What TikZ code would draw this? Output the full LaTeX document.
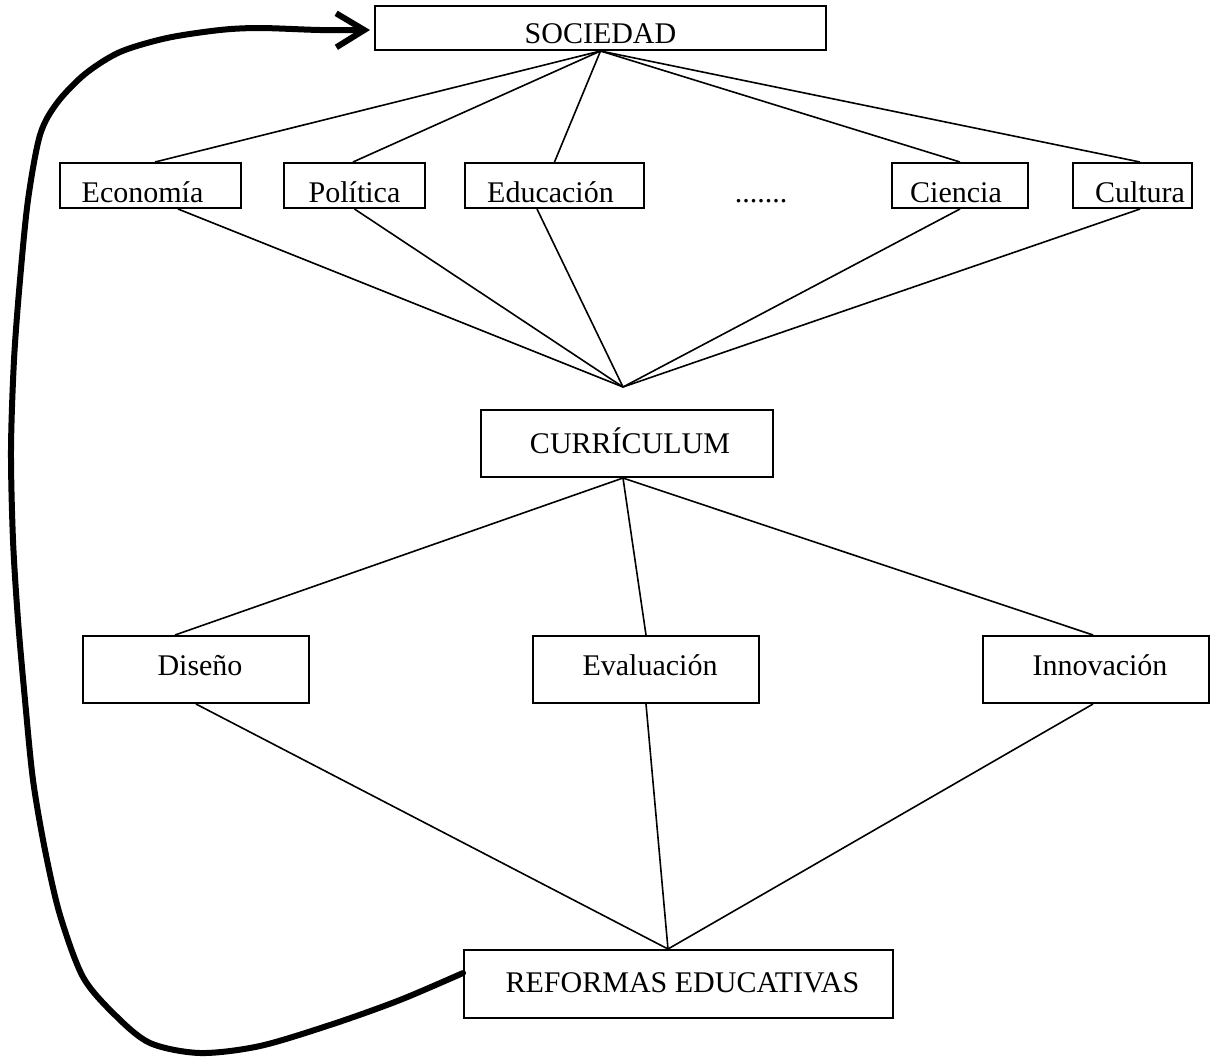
\documentclass[tikz,border=0pt]{standalone}
\usepackage{fontspec}
\setmainfont{Liberation Serif}
\usetikzlibrary{arrows.meta}
\begin{document}
\begin{tikzpicture}[x=0.5pt,y=-0.5pt,
  box/.style={draw, line width=1pt, inner sep=0pt, font=\fontsize{15}{18}\selectfont},
  toprow/.style={box, text height=19.5pt, text depth=3pt},
  midrow/.style={box, minimum width=113pt, text height=19.5pt, text depth=14pt},
  link/.style={line width=0.8pt},
  loop/.style={line width=3pt, line cap=round, line join=round, -{Straight Barb[length=14pt,width=17pt]}}
]
\useasboundingbox (0,0) rectangle (1212,1062);

% nodes
\node[box, minimum width=225.5pt, text height=18.5pt, text depth=3.5pt] (soc) at (600.5,28) {SOCIEDAD};
\node[toprow, minimum width=90.5pt] (eco) at (150.5,185.5) {\hspace*{-8pt}Economía};
\node[toprow, minimum width=70.5pt] (pol) at (354.5,185.5) {Política};
\node[toprow, minimum width=89.5pt] (edu) at (554.5,185.5) {\hspace*{-4pt}Educación};
\node[font=\fontsize{15}{18}\selectfont, inner sep=0pt, anchor=base] (dots) at (761,202) {.......};
\node[toprow, minimum width=68pt] (cie) at (960,185.5) {\hspace*{-4pt}Ciencia};
\node[toprow, minimum width=59.5pt] (cul) at (1132.5,185.5) {\hspace*{7.5pt}Cultura};
\coordinate (cv) at (623,387);
\node[box, minimum width=146pt, text height=21.5pt, text depth=12pt] (cur) at (627,443.5) {\hspace*{3pt}CURRÍCULUM};
\node[midrow] (dis) at (196,669.5) {\hspace*{4pt}Diseño};
\node[midrow] (eva) at (646,669.5) {\hspace*{4pt}Evaluación};
\node[midrow] (inn) at (1096,669.5) {\hspace*{4pt}Innovación};
\node[box, minimum width=214.5pt, text height=21pt, text depth=13pt] (ref) at (678.5,984) {\hspace*{4pt}REFORMAS EDUCATIVAS};

% SOCIEDAD to the fields
\draw[link] (soc.south) -- ([xshift=2.25pt]eco.north);
\draw[link] (soc.south) -- ([xshift=-0.75pt]pol.north);
\draw[link] (soc.south) -- (edu.north);
\draw[link] (soc.south) -- (cie.north);
\draw[link] (soc.south) -- ([xshift=3.75pt]cul.north);

% fields to curriculum point
\draw[link] ([xshift=13.75pt]eco.south) -- (cv);
\draw[link] (pol.south) -- (cv);
\draw[link] ([xshift=-8.75pt]edu.south) -- (cv);
\draw[link] (cie.south) -- (cv);
\draw[link] ([xshift=3.75pt]cul.south) -- (cv);

% curriculum to the three
\draw[link] ([xshift=-2pt]cur.south) -- ([xshift=-10.5pt]dis.north);
\draw[link] ([xshift=-2pt]cur.south) -- (eva.north);
\draw[link] ([xshift=-2pt]cur.south) -- ([xshift=-1.5pt]inn.north);

% the three to reformas
\draw[link] (dis.south) -- ([xshift=-5.25pt]ref.north);
\draw[link] (eva.south) -- ([xshift=-5.25pt]ref.north);
\draw[link] ([xshift=-1.5pt]inn.south) -- ([xshift=-5.25pt]ref.north);

% feedback loop
\coordinate (a0) at ([yshift=5.5pt]ref.west);
\coordinate (a1) at ([xshift=-2pt,yshift=-1pt]soc.west);
\draw[loop] plot[smooth, tension=0.5] coordinates {(a0) (400,1000) (333,1024) (260,1046) (200,1053) (150,1043) (115,1015) (83,977) (60,915) (45,850) (33,780) (25,700) (18,620) (13,540) (11,450) (14,360) (20,280) (28,200) (40,135) (57,103) (85,74) (120,52) (167,38) (220,30) (260,28) (320,30) (a1)};
\end{tikzpicture}
\end{document}
